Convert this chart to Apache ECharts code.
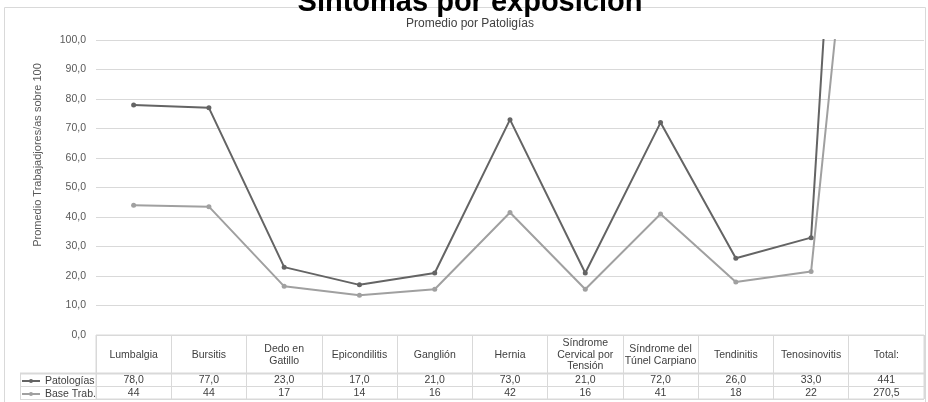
<!DOCTYPE html>
<html><head><meta charset="utf-8">
<script src="https://cdn.jsdelivr.net/npm/echarts@6/dist/echarts.min.js"></script>
<style>html,body{margin:0;padding:0;background:#fff}#c{width:928px;height:402px}</style>
</head><body><div id="c"></div>
<script>
const categories = ['Lumbalgia','Bursitis','Dedo en\nGatillo','Epicondilitis','Ganglión','Hernia','Síndrome\nCervical por\nTensión','Síndrome del\nTúnel Carpiano','Tendinitis','Tenosinovitis','Total:'];
const patologias = [78,77,23,17,21,73,21,72,26,33,441];
const baseTrab = [44,43.5,16.5,13.5,15.5,41.5,15.5,41,18,21.5,270.5];
const seriesNames = ['Patologías','Base Trab.'];
const titleText = 'Síntomas por exposición';
const subtitleText = 'Promedio por Patoligías';
const yName = 'Promedio Trabajadjores/as sobre 100';

const FONT = "'Liberation Sans', Arial, sans-serif";
const DARK = '#646464', LIGHT = '#a0a0a0', GRID = '#d9d9d9', TXT = '#404040';
const last = categories.length - 1;
const fmtPat = (v, i) => i < last ? v.toFixed(1).replace('.', ',') : String(v);
const fmtBase = (v, i) => i < last ? String(Math.round(v)) : v.toFixed(1).replace('.', ',');

const chart = echarts.init(document.getElementById('c'), null, {renderer: 'canvas'});
const tableLabel = {fontFamily: FONT, fontSize: 10.5, color: TXT, interval: 0, inside: true, verticalAlign: 'middle', lineHeight: 11.5};
chart.setOption({
  animation: false,
  textStyle: {fontFamily: FONT},
  graphic: [
    {type: 'rect', z: 0, silent: true, shape: {x: 4.5, y: 7.5, width: 921, height: 400}, style: {fill: 'none', stroke: GRID, lineWidth: 1}},
    {type: 'text', z: 10, style: {text: titleText, x: 470, y: 2.5, align: 'center', verticalAlign: 'middle', fontFamily: FONT, fontSize: 29, fontWeight: 'bold', fill: '#000'}},
    {type: 'text', z: 10, style: {text: subtitleText, x: 470, y: 24, align: 'center', verticalAlign: 'middle', fontFamily: FONT, fontSize: 12, fill: TXT}},
    {type: 'text', z: 10, x: 38, y: 155, rotation: Math.PI / 2, style: {text: yName, x: 0, y: 0, align: 'center', verticalAlign: 'middle', fontFamily: FONT, fontSize: 11, fill: '#595959'}},
    {type: 'line', z: 5, shape: {x1: 20, y1: 373.5, x2: 924, y2: 373.5}, style: {stroke: GRID, lineWidth: 2}},
    {type: 'line', z: 5, shape: {x1: 20, y1: 386.5, x2: 924, y2: 386.5}, style: {stroke: GRID, lineWidth: 1}},
    {type: 'line', z: 5, shape: {x1: 20, y1: 399.5, x2: 924, y2: 399.5}, style: {stroke: GRID, lineWidth: 1}},
    {type: 'line', z: 5, shape: {x1: 20.5, y1: 373, x2: 20.5, y2: 400}, style: {stroke: GRID, lineWidth: 1}}
  ],
  legend: {
    data: seriesNames, orient: 'vertical', left: 21, top: 374.5, padding: 0, itemGap: 0,
    itemWidth: 18, itemHeight: 5, selectedMode: false,
    textStyle: {fontFamily: FONT, fontSize: 10.5, color: TXT, lineHeight: 13}
  },
  grid: [
    {left: 96, width: 828, top: 40, height: 295},
    {left: 96, width: 828, top: 335, height: 64, show: true, borderColor: GRID, borderWidth: 1, backgroundColor: 'transparent'}
  ],
  xAxis: [
    {gridIndex: 0, type: 'category', data: categories, boundaryGap: true, axisLine: {show: false}, axisTick: {show: false}, axisLabel: {show: false}, splitLine: {show: false}},
    {gridIndex: 1, type: 'category', data: categories, position: 'top', boundaryGap: true, axisLine: {show: false}, axisTick: {show: false},
      axisLabel: Object.assign({margin: 20}, tableLabel), splitLine: {show: true, lineStyle: {color: GRID, width: 1}}},
    {gridIndex: 1, type: 'category', data: categories, position: 'bottom', boundaryGap: true, axisLine: {show: false}, axisTick: {show: false},
      axisLabel: Object.assign({margin: 18.5, formatter: (v, i) => fmtPat(patologias[i], i)}, tableLabel), splitLine: {show: false}},
    {gridIndex: 1, type: 'category', data: categories, position: 'bottom', boundaryGap: true, axisLine: {show: false}, axisTick: {show: false},
      axisLabel: Object.assign({margin: 5.5, formatter: (v, i) => fmtBase(baseTrab[i], i)}, tableLabel), splitLine: {show: false}}
  ],
  yAxis: [
    {gridIndex: 0, type: 'value', min: 0, max: 100, interval: 10, axisLine: {show: false}, axisTick: {show: false},
      axisLabel: {fontFamily: FONT, fontSize: 10.5, color: '#595959', margin: 10, formatter: v => v.toFixed(1).replace('.', ',')},
      splitLine: {show: true, lineStyle: {color: GRID, width: 1}}},
    {gridIndex: 1, type: 'value', show: false}
  ],
  series: [
    {name: seriesNames[0], type: 'line', xAxisIndex: 0, yAxisIndex: 0, data: patologias, symbol: 'circle', symbolSize: 5,
      itemStyle: {color: DARK}, lineStyle: {color: DARK, width: 2}, clip: true, z: 3},
    {name: seriesNames[1], type: 'line', xAxisIndex: 0, yAxisIndex: 0, data: baseTrab, symbol: 'circle', symbolSize: 5,
      itemStyle: {color: LIGHT}, lineStyle: {color: LIGHT, width: 2}, clip: true, z: 2}
  ]
});
</script></body></html>
